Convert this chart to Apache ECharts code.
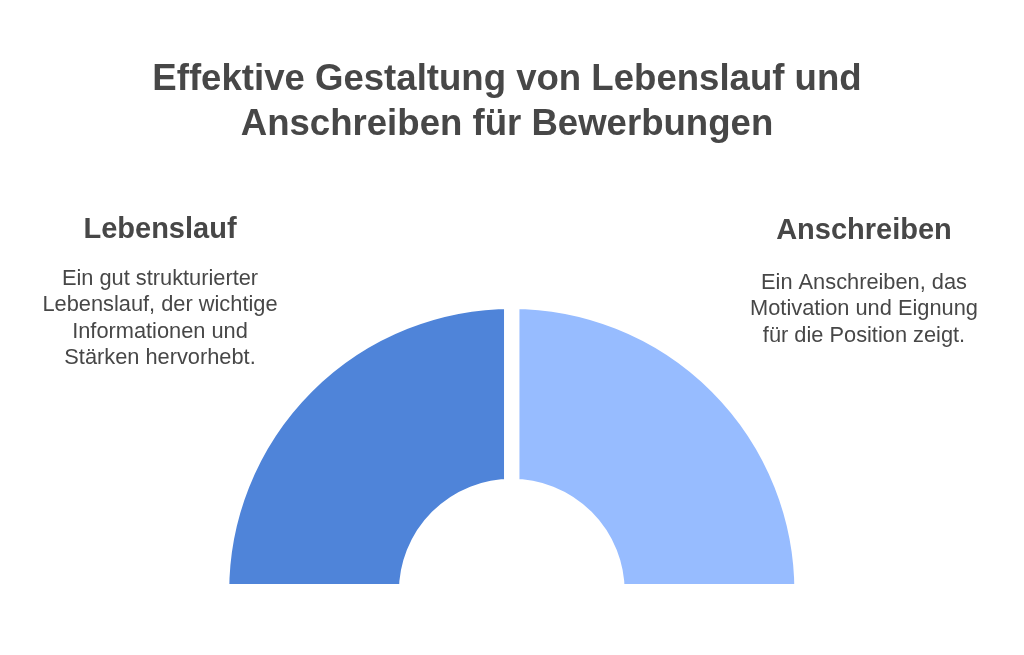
<!DOCTYPE html>
<html>
<head>
<meta charset="utf-8">
<script src="https://cdn.jsdelivr.net/npm/echarts@6/dist/echarts.min.js"></script>
<style>
html,body{margin:0;padding:0;background:#fff;}
#chart{width:1024px;height:655px;}
</style>
</head>
<body>
<div id="chart"></div>
<script>
// ---- data ----
const titleLines = ['Effektive Gestaltung von Lebenslauf und', 'Anschreiben für Bewerbungen'];
const categories = ['Lebenslauf', 'Anschreiben'];
const values = [50, 50];
const descriptions = [
  ['Ein gut strukturierter', 'Lebenslauf, der wichtige', 'Informationen und', 'Stärken hervorhebt.'],
  ['Ein Anschreiben, das', 'Motivation und Eignung', 'für die Position zeigt.']
];
const colors = ['#4F84D9', '#97BCFF'];

// ---- layout ----
const FONT = '"Liberation Sans", Arial, Helvetica, sans-serif';
const TEXT_COLOR = '#474747';
const labelX = [160, 864];
const headingY = [230, 231];
const bodyTop = [266, 270];
const gap = 15.3;

const chart = echarts.init(document.getElementById('chart'), null, {renderer: 'canvas'});

const graphics = [];
graphics.push({
  type: 'text',
  x: 507,
  y: 58,
  style: {
    text: titleLines.join('\n'),
    font: 'bold 36.6px ' + FONT,
    fill: TEXT_COLOR,
    align: 'center',
    verticalAlign: 'top',
    lineHeight: 44.5
  }
});
categories.forEach((c, i) => {
  graphics.push({
    type: 'text',
    x: labelX[i], y: headingY[i],
    style: {
      text: c,
      font: 'bold 29px ' + FONT,
      fill: TEXT_COLOR,
      align: 'center',
      verticalAlign: 'middle'
    }
  });
  graphics.push({
    type: 'text',
    x: labelX[i], y: bodyTop[i],
    style: {
      text: descriptions[i].join('\n'),
      font: '21.8px ' + FONT,
      fill: TEXT_COLOR,
      align: 'center',
      verticalAlign: 'top',
      lineHeight: 26.3
    }
  });
});

chart.setOption({
  backgroundColor: '#ffffff',
  animation: false,
  graphic: graphics,
  series: [{
    type: 'pie',
    center: [511.8, 591.6],
    radius: [112.9 - gap / 2, 282.6 + gap / 2],
    startAngle: 180,
    endAngle: 0,
    clockwise: true,
    silent: true,
    label: {show: false},
    labelLine: {show: false},
    itemStyle: {borderColor: '#ffffff', borderWidth: gap},
    emphasis: {disabled: true},
    data: categories.map((c, i) => ({name: c, value: values[i], itemStyle: {color: colors[i]}}))
  }]
});
</script>
</body>
</html>
